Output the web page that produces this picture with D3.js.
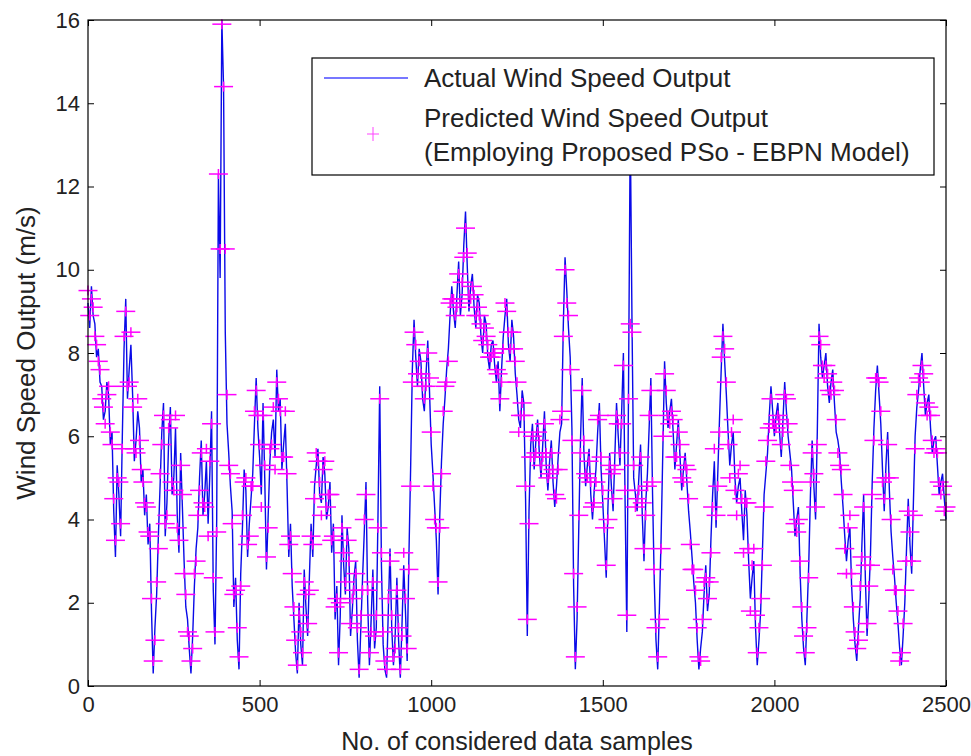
<!DOCTYPE html>
<html>
<head>
<meta charset="utf-8">
<script src="https://cdn.jsdelivr.net/npm/d3@7/dist/d3.min.js"></script>
<style>
    body { margin: 0; background: #fff; }
    text { font-family: 'Liberation Sans', Arial, sans-serif; fill: #222; }
</style>
</head>
<body>
<div id="chart"></div>
<script>
'use strict';

// one value every 5 samples
var sampleStep = 5;

// actual wind speed (m/s) - 20 values per 100 samples
var actualSpeed = [
    9.2, 8.6, 9.6, 8.9, 8.7, 7.9, 8.1, 7.3, 7.2, 6.4, 6.6, 7.3, 7.0, 5.8, 6.1, 4.2, 3.1, 5.3, 4.6, 3.6,
    6.0, 8.1, 9.3, 6.9, 7.6, 8.2, 7.0, 5.4, 5.9, 6.6, 6.2, 4.9, 5.2, 4.1, 4.6, 3.4, 3.9, 1.8, 0.3, 1.4,
    2.2, 3.6, 4.8, 6.1, 6.8, 3.6, 4.4, 5.9, 6.7, 4.6, 5.0, 6.2, 4.1, 3.2, 5.6, 4.3, 3.0, 1.9, 1.6, 0.9,
    0.3, 1.2, 2.4, 3.3, 3.8, 5.0, 5.9, 4.1, 4.6, 5.4, 3.9, 5.1, 6.6, 2.3, 1.0, 4.0, 12.3, 9.8, 16.0, 14.4,
    8.5, 6.3, 5.6, 4.8, 4.2, 1.9, 2.6, 1.1, 0.4, 2.7, 3.8, 5.2, 4.7, 3.1, 3.9, 4.5, 5.1, 6.3, 7.4, 6.2,
    5.5, 4.6, 6.8, 5.0, 2.8, 4.1, 5.4, 6.1, 6.4, 5.5, 7.6, 6.6, 6.9, 5.2, 5.8, 6.3, 4.8, 3.1, 3.9, 2.4,
    1.6, 0.8, 0.3, 2.0, 1.0, 0.5, 2.8, 1.9, 1.2, 2.6, 3.9, 3.1, 4.8, 5.3, 5.7, 4.6, 4.4, 5.5, 5.1, 4.0,
    4.3, 4.9, 3.2, 3.9, 1.6, 2.4, 0.5, 1.7, 4.1, 2.9, 2.2, 3.8, 3.3, 1.2, 1.8, 2.6, 3.0, 1.1, 0.2, 1.4,
    2.6, 3.7, 4.9, 2.0, 0.5, 1.6, 2.8, 0.9, 1.4, 4.1, 7.2, 2.9, 1.0, 0.4, 0.2, 1.8, 3.3, 1.4, 0.5, 1.2,
    2.6, 1.1, 0.2, 1.5, 2.9, 1.8, 0.6, 3.1, 5.2, 7.6, 8.8, 7.9, 7.2, 8.1, 7.8, 6.9, 6.6, 7.5, 8.3, 7.1,
    5.8, 5.1, 4.3, 3.5, 2.2, 4.1, 5.4, 6.3, 6.9, 7.6, 8.1, 8.9, 9.6, 9.0, 8.6, 9.4, 10.2, 8.9, 9.4, 10.6,
    11.4, 10.1, 9.0, 9.6, 9.9, 9.1, 8.6, 9.4, 9.2, 8.4, 8.0, 8.9, 8.7, 7.9, 7.6, 8.2, 8.3, 7.7, 7.3, 7.8,
    6.6, 7.6, 8.4, 8.9, 9.3, 8.2, 7.8, 8.8, 8.4, 7.5, 7.0, 6.4, 6.2, 7.1, 6.8, 4.5, 1.2, 4.2, 5.8, 6.3,
    5.2, 5.9, 6.4, 5.6, 5.0, 5.8, 6.6, 5.3, 4.7, 5.4, 5.9, 4.9, 4.3, 4.8, 5.5, 6.1, 6.3, 8.7, 10.3, 9.5,
    8.6, 7.9, 6.2, 2.4, 0.4, 1.6, 3.8, 5.9, 7.4, 5.6, 4.8, 5.3, 5.7, 4.6, 4.0, 4.7, 5.2, 6.1, 6.8, 5.2,
    4.4, 3.5, 2.6, 4.3, 5.6, 4.8, 4.2, 5.5, 6.8, 6.0, 5.3, 6.6, 8.0, 4.4, 1.3, 7.2, 13.5, 8.8, 5.0, 4.6,
    4.2, 5.0, 5.8, 4.1, 3.0, 4.4, 5.1, 6.2, 7.4, 4.6, 2.5, 1.1, 0.4, 1.9, 3.6, 5.7, 7.8, 6.8, 6.2, 6.6,
    6.9, 6.1, 5.2, 5.8, 6.4, 5.5, 4.7, 5.2, 5.6, 4.9, 4.2, 3.7, 3.1, 2.5, 2.0, 1.1, 0.4, 0.9, 1.3, 2.2,
    2.9, 1.8, 2.2, 3.5, 4.6, 5.4, 3.8, 5.1, 6.4, 7.6, 8.7, 7.8, 7.0, 6.1, 5.3, 5.8, 6.1, 5.0, 4.4, 4.8,
    5.0, 4.2, 3.5, 4.7, 4.1, 3.0, 2.1, 2.6, 3.0, 1.4, 0.5, 1.1, 1.8, 3.2, 4.6, 5.1, 5.6, 6.5, 7.2, 6.6,
    6.0, 6.5, 6.8, 6.1, 5.5, 6.4, 7.3, 6.6, 6.0, 5.6, 5.2, 4.4, 3.6, 4.0, 4.3, 2.7, 1.6, 0.9, 0.5, 1.7,
    2.9, 4.6, 5.9, 4.8, 4.0, 6.1, 8.7, 7.9, 7.4, 7.7, 8.0, 7.2, 6.8, 7.3, 7.6, 6.8, 6.1, 5.9, 5.6, 4.9,
    4.3, 3.6, 3.0, 3.5, 3.8, 2.4, 1.6, 1.0, 0.6, 1.4, 2.1, 3.4, 4.6, 2.6, 1.2, 2.1, 3.2, 4.9, 6.2, 7.1,
    7.7, 7.0, 6.3, 5.2, 4.2, 5.3, 6.1, 4.7, 3.7, 3.1, 2.6, 2.0, 1.5, 0.9, 0.5, 1.2, 2.0, 3.3, 4.5, 3.4,
    2.7, 4.4, 6.0, 6.7, 7.1, 7.6, 8.0, 7.2, 6.5, 6.8, 7.0, 6.2, 5.6, 5.9, 6.0, 5.3, 4.6, 4.9, 5.1, 4.5,
    4.0
];

// predicted wind speed (PSO - EBPN model), same samples
var predictedSpeed = [
    9.5, 8.9, 9.3, 9.1, 8.4, 8.2, 7.8, 7.6, 6.9, 6.7, 6.3, 7.0, 7.2, 6.1, 5.8, 4.5, 3.5, 5.0, 4.9, 3.9,
    5.7, 8.4, 9.0, 7.2, 7.3, 8.5, 6.7, 5.7, 5.6, 6.9, 5.9, 5.2, 4.9, 4.4, 4.3, 3.7, 3.6, 2.1, 0.6, 1.1,
    2.5, 3.3, 5.1, 5.8, 6.5, 3.9, 4.1, 6.2, 6.4, 4.9, 4.7, 6.5, 3.8, 3.5, 5.3, 4.6, 2.7, 2.2, 1.3, 1.2,
    0.6, 0.9, 2.7, 3.0, 4.1, 4.7, 5.6, 4.4, 4.3, 5.7, 3.6, 5.4, 6.3, 2.6, 1.3, 3.7, 12.3, 10.5, 15.9, 14.4,
    10.5, 7.0, 5.3, 5.1, 3.9, 2.2, 2.3, 1.4, 0.7, 2.4, 4.1, 4.9, 5.0, 3.4, 3.6, 4.8, 4.8, 6.6, 7.1, 6.5,
    5.8, 4.3, 6.5, 5.3, 3.1, 3.8, 5.7, 5.8, 6.7, 5.2, 7.3, 6.9, 6.6, 5.5, 5.5, 6.6, 5.1, 3.4, 3.6, 2.7,
    1.9, 1.1, 0.5, 1.7, 1.3, 0.8, 2.5, 2.2, 1.5, 2.3, 3.6, 3.4, 4.5, 5.6, 5.4, 4.9, 4.1, 5.2, 5.4, 4.3,
    4.6, 4.6, 3.5, 3.6, 1.9, 2.1, 0.8, 2.0, 3.8, 3.2, 2.5, 3.5, 3.0, 1.5, 2.1, 2.3, 2.7, 1.4, 0.4, 1.7,
    2.3, 4.0, 4.6, 2.3, 0.8, 1.3, 2.5, 1.2, 1.7, 3.8, 6.9, 3.2, 1.3, 0.6, 0.4, 2.1, 3.0, 1.7, 0.7, 0.9,
    2.3, 1.4, 0.4, 1.2, 3.2, 2.1, 0.9, 2.8, 4.8, 7.3, 8.5, 8.2, 7.5, 7.8, 7.5, 7.2, 6.9, 7.2, 8.0, 7.4,
    6.1, 4.8, 4.0, 3.8, 2.5, 3.8, 5.1, 6.6, 7.2, 7.3, 7.8, 9.2, 9.3, 9.3, 8.9, 9.1, 9.9, 9.2, 9.7, 10.3,
    11.0, 10.4, 9.4, 9.3, 9.6, 9.4, 8.9, 9.1, 8.9, 8.7, 8.3, 8.6, 8.4, 8.2, 7.9, 7.9, 8.0, 8.0, 7.6, 7.5,
    6.9, 7.3, 8.1, 9.2, 9.0, 8.5, 8.1, 8.5, 8.1, 7.8, 7.3, 6.1, 6.5, 6.8, 6.5, 4.8, 1.6, 3.9, 5.5, 6.0,
    5.5, 5.6, 6.1, 5.9, 5.3, 5.5, 6.3, 5.6, 5.0, 5.1, 5.6, 5.2, 4.6, 4.5, 5.2, 6.4, 6.6, 8.4, 10.0, 9.2,
    8.9, 7.6, 5.9, 2.7, 0.7, 1.9, 4.1, 5.6, 7.1, 5.9, 5.1, 5.0, 5.4, 4.9, 4.3, 4.4, 4.9, 6.4, 6.5, 5.5,
    4.7, 3.8, 2.9, 4.0, 5.3, 5.1, 4.5, 5.2, 6.5, 6.3, 5.6, 6.3, 7.7, 4.7, 1.7, 6.9, 8.7, 8.5, 5.3, 4.3,
    4.5, 4.7, 5.5, 4.4, 3.3, 4.1, 4.8, 6.5, 7.1, 4.9, 2.8, 1.4, 0.7, 1.6, 3.3, 6.0, 7.5, 7.1, 6.5, 6.3,
    6.6, 6.4, 5.5, 5.5, 6.1, 5.8, 5.0, 4.9, 5.3, 5.2, 4.5, 3.4, 2.8, 2.8, 2.3, 1.4, 0.7, 0.6, 1.6, 2.5,
    2.6, 2.1, 2.5, 3.2, 4.3, 5.7, 4.1, 4.8, 6.1, 7.9, 8.4, 8.1, 7.3, 5.8, 5.0, 6.1, 6.4, 4.7, 4.1, 5.1,
    5.3, 4.5, 3.2, 4.4, 4.4, 3.3, 1.8, 2.9, 3.3, 1.7, 0.8, 1.4, 2.1, 2.9, 4.3, 5.4, 5.9, 6.2, 6.9, 6.3,
    6.3, 6.2, 6.5, 6.4, 5.8, 6.1, 7.0, 6.9, 6.3, 5.3, 4.9, 4.7, 3.9, 3.7, 4.0, 3.0, 1.9, 1.2, 0.8, 1.4,
    2.6, 4.9, 5.6, 5.1, 4.3, 5.8, 8.4, 8.2, 7.7, 7.4, 7.7, 7.5, 7.1, 7.0, 7.3, 7.1, 6.4, 5.6, 5.3, 5.2,
    4.6, 3.3, 2.7, 3.8, 4.1, 2.7, 1.9, 1.3, 0.9, 1.1, 2.4, 3.1, 4.3, 2.9, 1.5, 2.4, 2.9, 4.6, 5.9, 7.4,
    7.4, 7.3, 6.6, 4.9, 4.5, 5.0, 5.8, 5.0, 4.0, 2.8, 2.3, 2.3, 1.8, 0.6, 0.8, 1.5, 2.3, 3.0, 4.2, 3.7,
    3.0, 4.1, 5.7, 7.0, 7.4, 7.3, 7.7, 7.5, 6.8, 6.5, 6.7, 6.5, 5.9, 5.6, 5.7, 5.6, 4.9, 4.6, 4.8, 4.2,
    4.3
];

var xTicks = [0, 500, 1000, 1500, 2000, 2500];
var yTicks = [0, 2, 4, 6, 8, 10, 12, 14, 16];

var legendLabels = [
    'Actual Wind Speed Output',
    'Predicted Wind Speed Output',
    '(Employing Proposed PSo - EBPN Model)'
];

var width = 971,
    height = 756,
    margin = {top: 20, right: 25, bottom: 70, left: 88},
    plotW = width - margin.left - margin.right,
    plotH = height - margin.top - margin.bottom;

var svg = d3.select('#chart')
    .append('svg')
        .attr('width', width)
        .attr('height', height);

var g = svg.append('g')
    .attr('transform', 'translate(' + margin.left + ',' + margin.top + ')');

var xScale = d3.scaleLinear().domain([0, 2500]).range([0, plotW]);
var yScale = d3.scaleLinear().domain([0, 16]).range([plotH, 0]);

var actual = actualSpeed.map(function(v, i) { return {x: i * sampleStep, y: v}; });
var predicted = predictedSpeed.map(function(v, i) { return {x: i * sampleStep, y: v}; });

// actual series - blue line
var line = d3.line()
    .x(function(d) { return xScale(d.x); })
    .y(function(d) { return yScale(d.y); });

g.append('path')
    .datum(actual)
    .attr('fill', 'none')
    .attr('stroke', '#0a0ae8')
    .attr('stroke-width', 1.4)
    .attr('d', line);

// '+' marker, flat and wide like the scanned figure
var plus = function(sel, hw, hh) {
    sel.append('line')
        .attr('x1', -hw).attr('x2', hw)
        .attr('y1', 0).attr('y2', 0);
    sel.append('line')
        .attr('x1', 0).attr('x2', 0)
        .attr('y1', -hh).attr('y2', hh);
};

// predicted series - magenta markers
var marks = g.append('g')
    .attr('stroke', '#ff00ff')
    .attr('stroke-width', 1.5)
    .selectAll('.mark')
    .data(predicted)
    .enter().append('g')
        .attr('class', 'mark')
        .attr('transform', function(d) {
            return 'translate(' + xScale(d.x) + ',' + yScale(d.y) + ')';
        });
plus(marks, 9.5, 5);

// axes, ticks pointing inward on all four sides
var styleAxis = function(sel) {
    sel.select('.domain').remove();
    sel.selectAll('.tick line').attr('stroke', '#000');
    sel.selectAll('.tick text')
        .attr('fill', '#222')
        .style('font-family', "'Liberation Sans', Arial, sans-serif")
        .style('font-size', '22px');
};

var fmt = d3.format('d');

g.append('g')
    .attr('transform', 'translate(0,' + plotH + ')')
    .call(d3.axisBottom(xScale).tickValues(xTicks).tickFormat(fmt)
        .tickSizeInner(-6).tickSizeOuter(0).tickPadding(10))
    .call(styleAxis);

g.append('g')
    .call(d3.axisTop(xScale).tickValues(xTicks).tickFormat('')
        .tickSizeInner(-6).tickSizeOuter(0))
    .call(styleAxis);

g.append('g')
    .call(d3.axisLeft(yScale).tickValues(yTicks).tickFormat(fmt)
        .tickSizeInner(-6).tickSizeOuter(0).tickPadding(8))
    .call(styleAxis);

g.append('g')
    .attr('transform', 'translate(' + plotW + ',0)')
    .call(d3.axisRight(yScale).tickValues(yTicks).tickFormat('')
        .tickSizeInner(-6).tickSizeOuter(0))
    .call(styleAxis);

g.append('rect')
    .attr('width', plotW)
    .attr('height', plotH)
    .attr('fill', 'none')
    .attr('stroke', '#000')
    .attr('stroke-width', 1.2);

// axis titles
svg.append('text')
    .attr('x', margin.left + plotW / 2)
    .attr('y', 750)
    .attr('text-anchor', 'middle')
    .style('font-size', '25px')
    .text('No. of considered data samples');

svg.append('text')
    .attr('transform', 'translate(35,' + (margin.top + plotH / 2) + ') rotate(-90)')
    .attr('text-anchor', 'middle')
    .style('font-size', '26px')
    .text('Wind Speed Output (m/s)');

// legend
var lg = svg.append('g').attr('transform', 'translate(312,58)');

lg.append('rect')
    .attr('width', 622)
    .attr('height', 117)
    .attr('fill', '#fff')
    .attr('stroke', '#000')
    .attr('stroke-width', 1.2);

lg.append('line')
    .attr('x1', 12).attr('x2', 96)
    .attr('y1', 20).attr('y2', 20)
    .attr('stroke', '#4a4aff')
    .attr('stroke-width', 1.5);

plus(lg.append('g')
        .attr('stroke', '#ff44ff')
        .attr('transform', 'translate(61,76)'), 6, 7);

lg.selectAll('.lgtext')
    .data(legendLabels)
    .enter().append('text')
        .attr('class', 'lgtext')
        .attr('x', 112)
        .attr('y', function(d, i) { return [29, 69, 103][i]; })
        .style('font-size', '26px')
        .text(function(d) { return d; });
</script>
</body>
</html>
